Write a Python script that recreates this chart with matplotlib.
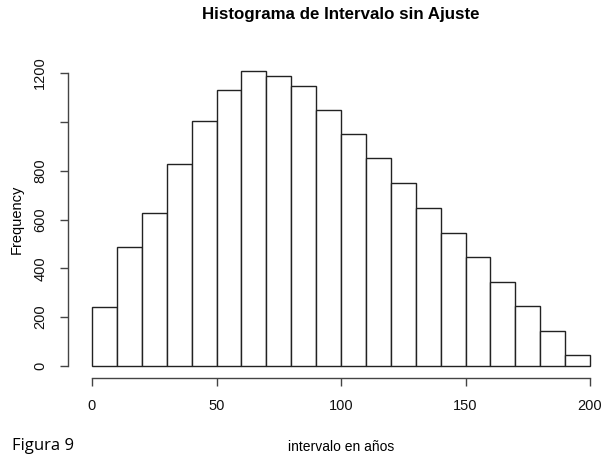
import matplotlib
matplotlib.use("Agg")
import matplotlib.pyplot as plt
import numpy as np

plt.rcParams['font.family'] = ['Liberation Sans', 'DejaVu Sans']

# histogram counts, bins of width 10 from 0 to 200
bin_edges = list(range(0, 210, 10))
counts = [243, 486, 626, 828, 1004, 1131, 1208, 1187, 1146, 1049,
          950, 850, 749, 648, 546, 447, 345, 245, 143, 44]
x_ticks = [0, 50, 100, 150, 200]
y_ticks = [0, 200, 400, 600, 800, 1000, 1200]
y_labels = ['0', '200', '400', '600', '800', '', '1200']

W, H = 604, 455
fig = plt.figure(figsize=(W / 100, H / 100), dpi=100)
ax = fig.add_axes([92 / W, (H - 366) / H, 498 / W, 293 / H])

bars = ax.bar(bin_edges[:-1], counts, width=10, align='edge',
              facecolor='white', edgecolor='#222222', linewidth=1.0)
for b in bars:
    b.set_clip_on(False)

ax.set_xlim(0, 200)
ax.set_ylim(0, 1200)

for s in ['top', 'right']:
    ax.spines[s].set_visible(False)
ax.spines['left'].set_position(('outward', 24 * 0.72))
ax.spines['bottom'].set_position(('outward', 12 * 0.72))
ax.spines['left'].set_bounds(0, 1200)
ax.spines['bottom'].set_bounds(0, 200)
for s in ['left', 'bottom']:
    ax.spines[s].set_color('#444444')
    ax.spines[s].set_linewidth(1.0)

ax.set_xticks(x_ticks)
ax.set_yticks(y_ticks)
ax.set_yticklabels(y_labels, rotation=90, va='center')
ax.tick_params(axis='both', length=6, width=1.0, color='#444444',
               labelsize=10.5, labelcolor='#111111')
ax.tick_params(axis='x', pad=9)
ax.tick_params(axis='y', pad=9)

ax.set_ylabel('Frequency', fontsize=10.5, labelpad=7)
fig.text(341 / W, 1 - 15 / H, 'Histograma de Intervalo sin Ajuste',
         ha='center', va='center', fontsize=12.2, fontweight='bold')

# captions at the bottom edge
fig.text(341 / W, 1 - 454 / H, 'intervalo en años', ha='center', va='bottom',
         fontsize=10)
fig.text(12 / W, 1 - 454 / H, 'Figura 9', ha='left', va='bottom',
         fontsize=12, family=['Open Sans', 'DejaVu Sans'])

fig.savefig('out.png', dpi=100)
